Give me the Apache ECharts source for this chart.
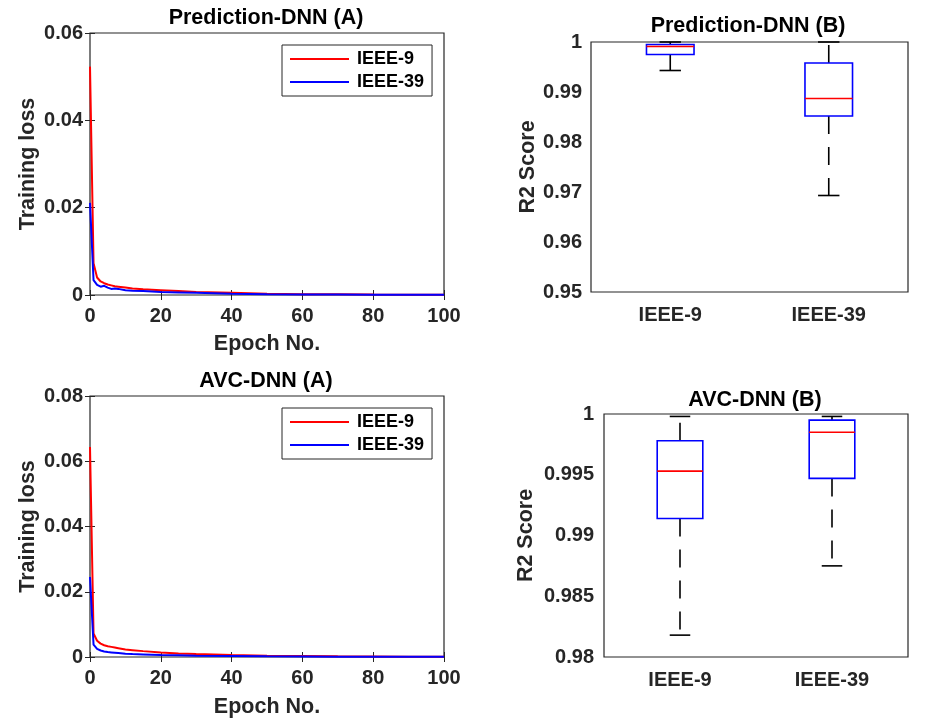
<!doctype html>
<html>

<head>
    <meta charset="utf-8">
    <title>DNN training</title>
    <script src="https://cdn.jsdelivr.net/npm/echarts@6/dist/echarts.min.js"></script>
    <style>
        html, body { margin: 0; padding: 0; background: #fff; }
        #container { width: 928px; height: 724px; }
    </style>
</head>

<body>
    <div id="container"></div>

    <script type="text/javascript">
        // epochs at which the loss curves were read
        var epochs = [0, 1, 2, 3, 4, 5, 6, 7, 8, 10, 12, 15, 20, 25, 30, 40, 50, 60, 70, 80, 90, 100];
        // Prediction-DNN (A)
        var predLoss9 = [0.0523, 0.0073, 0.0040, 0.0031, 0.0027, 0.0024, 0.0022, 0.0020, 0.0019, 0.0017, 0.0015, 0.0013, 0.0011, 0.0009, 0.0007, 0.0005, 0.0003, 0.0002, 0.00015, 0.0001, 0.00008, 0.00006];
        var predLoss39 = [0.0211, 0.0034, 0.0023, 0.0019, 0.0021, 0.0017, 0.0014, 0.0015, 0.0014, 0.0011, 0.0010, 0.0009, 0.0007, 0.0006, 0.0005, 0.0003, 0.0002, 0.00012, 0.0001, 0.00008, 0.00006, 0.00005];
        // AVC-DNN (A)
        var avcLoss9 = [0.0644, 0.0072, 0.0050, 0.0041, 0.0036, 0.0033, 0.0031, 0.0029, 0.0027, 0.0023, 0.0021, 0.0018, 0.0014, 0.0011, 0.0009, 0.0006, 0.0004, 0.0003, 0.0002, 0.00015, 0.0001, 0.00008];
        var avcLoss39 = [0.0245, 0.0038, 0.0025, 0.0020, 0.0017, 0.0015, 0.0014, 0.0013, 0.0012, 0.0010, 0.0009, 0.0008, 0.0006, 0.0005, 0.0004, 0.0003, 0.0002, 0.00015, 0.0001, 0.00008, 0.00006, 0.00005];

        // box plots: [min, q1, median, q3, max]
        var systems = ['IEEE-9', 'IEEE-39'];
        var predBox9 = [0.9943, 0.9975, 0.9991, 0.9995, 1.0];
        var predBox39 = [0.9693, 0.9852, 0.9887, 0.9958, 1.0];
        var avcBox9 = [0.9818, 0.9914, 0.9953, 0.9978, 0.9998];
        var avcBox39 = [0.9875, 0.9947, 0.9985, 0.9995, 0.9998];

        var FONT = '"Liberation Sans", Arial, Helvetica, sans-serif';
        var AXC = '#262626';

        function pairs(xs, ys) {
            return xs.map(function(x, i) { return [x, ys[i]]; });
        }

        function fmt(v) {
            return String(parseFloat(v.toFixed(4)));
        }

        // main axes (bottom / left)
        function valueX(grid, name, gap) {
            return {
                type: 'value', gridIndex: grid, min: 0, max: 100, interval: 20,
                name: name, nameLocation: 'middle', nameGap: gap,
                nameTextStyle: { fontFamily: FONT, fontWeight: 'bold', fontSize: 21.5, color: AXC },
                axisLine: { show: false },
                axisTick: { inside: true, length: 5, lineStyle: { color: AXC } },
                axisLabel: { fontFamily: FONT, fontWeight: 'bold', fontSize: 20, color: AXC, margin: 11 },
                splitLine: { show: false }
            };
        }

        function catX(grid) {
            return {
                type: 'category', gridIndex: grid, data: systems,
                axisLine: { show: false },
                axisTick: { inside: true, length: 5, alignWithLabel: true, lineStyle: { color: AXC } },
                axisLabel: { fontFamily: FONT, fontWeight: 'bold', fontSize: 20, color: AXC, margin: 13 },
                splitLine: { show: false }
            };
        }

        function valueY(grid, min, max, step, name, gap, margin) {
            return {
                type: 'value', gridIndex: grid, min: min, max: max, interval: step,
                name: name, nameLocation: 'middle', nameGap: gap,
                nameTextStyle: { fontFamily: FONT, fontWeight: 'bold', fontSize: 21.5, color: AXC },
                axisLine: { show: false },
                axisTick: { inside: true, length: 5, lineStyle: { color: AXC } },
                axisLabel: { fontFamily: FONT, fontWeight: 'bold', fontSize: 20, color: AXC, margin: margin, formatter: fmt },
                splitLine: { show: false }
            };
        }

        // mirrored ticks on top / right (box on)
        function mirror(ax, pos) {
            var m = Object.assign({}, ax);
            m.position = pos;
            m.name = '';
            m.axisLabel = { show: false };
            return m;
        }

        var xAxes = [
            valueX(0, 'Epoch No.', 38),
            catX(1),
            valueX(2, 'Epoch No.', 39),
            catX(3)
        ];
        var yAxes = [
            valueY(0, 0, 0.06, 0.02, 'Training loss', 51, 7),
            valueY(1, 0.95, 1, 0.01, 'R2 Score', 52, 9),
            valueY(2, 0, 0.08, 0.02, 'Training loss', 51, 7),
            valueY(3, 0.98, 1, 0.005, 'R2 Score', 67, 10)
        ];
        var allX = xAxes.concat(xAxes.map(function(a) { return mirror(a, 'top'); }));
        var allY = yAxes.concat(yAxes.map(function(a) { return mirror(a, 'right'); }));

        function gridAt(left, top, width, height) {
            return {
                left: left, top: top, width: width, height: height,
                show: true, borderColor: AXC, borderWidth: 1.2, backgroundColor: 'transparent'
            };
        }

        // whisker box drawn with the axis scales
        function renderBox(params, api) {
            var cat = api.value(0);
            var lo = api.coord([cat, api.value(1)]);
            var q1 = api.coord([cat, api.value(2)]);
            var md = api.coord([cat, api.value(3)]);
            var q3 = api.coord([cat, api.value(4)]);
            var hi = api.coord([cat, api.value(5)]);
            var cx = lo[0];
            var bw = api.size([1, 0])[0] * 0.3;
            var cw = bw * 0.45;
            var dash = { stroke: '#000', lineWidth: 1.6, lineDash: [18, 13] };
            var solid = { stroke: '#000', lineWidth: 1.6 };
            return {
                type: 'group',
                children: [
                    { type: 'line', shape: { x1: cx, y1: q3[1], x2: cx, y2: hi[1] }, style: dash },
                    { type: 'line', shape: { x1: cx, y1: q1[1], x2: cx, y2: lo[1] }, style: dash },
                    { type: 'line', shape: { x1: cx - cw / 2, y1: hi[1], x2: cx + cw / 2, y2: hi[1] }, style: solid },
                    { type: 'line', shape: { x1: cx - cw / 2, y1: lo[1], x2: cx + cw / 2, y2: lo[1] }, style: solid },
                    { type: 'rect', shape: { x: cx - bw / 2, y: q3[1], width: bw, height: q1[1] - q3[1] },
                      style: { fill: '#fff', stroke: '#0000ff', lineWidth: 1.6 } },
                    { type: 'line', shape: { x1: cx - bw / 2, y1: md[1], x2: cx + bw / 2, y2: md[1] },
                      style: { stroke: '#ff0000', lineWidth: 1.6 } }
                ]
            };
        }

        function boxSeries(idx, a, b) {
            return {
                type: 'custom', xAxisIndex: idx, yAxisIndex: idx,
                renderItem: renderBox,
                encode: { x: 0, y: [1, 2, 3, 4, 5] },
                data: [[0].concat(a), [1].concat(b)],
                z: 3
            };
        }

        function lineSeries(idx, name, color, ys) {
            return {
                type: 'line', name: name, xAxisIndex: idx, yAxisIndex: idx,
                data: pairs(epochs, ys), symbol: 'none', smooth: false,
                lineStyle: { color: color, width: 2 }, itemStyle: { color: color },
                z: 3
            };
        }

        function legendAt(top) {
            return {
                left: 282, top: top, orient: 'vertical',
                data: ['IEEE-9', 'IEEE-39'],
                icon: 'rect', itemWidth: 59, itemHeight: 2, itemGap: 5,
                padding: [5, 8, 5, 8],
                borderColor: AXC, borderWidth: 1, backgroundColor: '#fff',
                textStyle: { fontFamily: FONT, fontWeight: 'bold', fontSize: 18, color: '#000', lineHeight: 18, padding: [0, 0, 0, 3] }
            };
        }

        function titleAt(text, x, y) {
            return {
                text: text, left: x, top: y, textAlign: 'center', padding: 0,
                textStyle: { fontFamily: FONT, fontWeight: 'bold', fontSize: 21.5, color: '#000', lineHeight: 22 }
            };
        }

        var option = {
            backgroundColor: '#fff',
            animation: false,
            title: [
                titleAt('Prediction-DNN (A)', 266, 7),
                titleAt('Prediction-DNN (B)', 748, 15),
                titleAt('AVC-DNN (A)', 266, 370),
                titleAt('AVC-DNN (B)', 755, 389)
            ],
            legend: [legendAt(45), legendAt(408)],
            grid: [
                gridAt(90, 33, 354, 262),
                gridAt(591, 42, 317, 250),
                gridAt(90, 396, 354, 261),
                gridAt(604, 414, 304, 243)
            ],
            xAxis: allX,
            yAxis: allY,
            series: [
                lineSeries(0, 'IEEE-9', '#ff0000', predLoss9),
                lineSeries(0, 'IEEE-39', '#0000ff', predLoss39),
                lineSeries(2, 'IEEE-9', '#ff0000', avcLoss9),
                lineSeries(2, 'IEEE-39', '#0000ff', avcLoss39),
                boxSeries(1, predBox9, predBox39),
                boxSeries(3, avcBox9, avcBox39)
            ]
        };

        var myChart = echarts.init(document.getElementById('container'), null, { renderer: 'canvas' });
        myChart.setOption(option);
    </script>
</body>

</html>
